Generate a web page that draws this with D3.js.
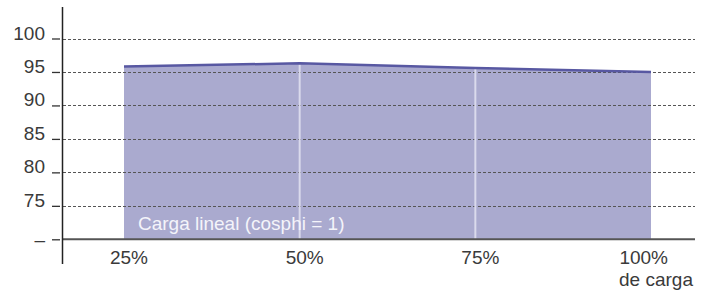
<!DOCTYPE html>
<html>
<head>
<meta charset="utf-8">
<script src="https://cdn.jsdelivr.net/npm/d3@7"></script>
<style>
  body { margin: 0; background: #fff; }
  text { font-family: "Liberation Sans", Arial, Helvetica, sans-serif; }
</style>
</head>
<body>
<div class="grafico"></div>
<script>
const width = 711, height = 290;

// datos
const cargas = [25, 50, 75, 100];
const rendimiento = [95.8, 96.3, 95.6, 95.0];
const etiquetasX = ["25%", "50%", "75%", "100%"];
const ticksY = [70, 75, 80, 85, 90, 95, 100];
const etiquetasY = ["–", "75", "80", "85", "90", "95", "100"];
const serie = "Carga lineal (cosphi = 1)";

const svg = d3.select(".grafico")
    .append("svg")
    .attr("width", width)
    .attr("height", height);

const x = d3.scaleLinear().domain([25, 100]).range([124, 651]);
const y = d3.scaleLinear().domain([70, 100]).range([239.3, 38.5]);

const datos = cargas.map((c, i) => ({ carga: c, valor: rendimiento[i] }));

// area
const area = d3.area()
    .x(d => x(d.carga))
    .y0(y(70))
    .y1(d => y(d.valor));

svg.append("path")
    .datum(datos)
    .attr("d", area)
    .attr("fill", "#aaaacf");

// lineas de rejilla punteadas
svg.append("g")
    .selectAll("line")
    .data(ticksY.slice(1))
    .enter().append("line")
    .attr("x1", 63)
    .attr("x2", 695)
    .attr("y1", d => Math.round(y(d)) + 0.5)
    .attr("y2", d => Math.round(y(d)) + 0.5)
    .attr("stroke", "#555")
    .attr("stroke-width", 1)
    .attr("stroke-dasharray", "3,2");

// lineas verticales blancas
svg.append("g")
    .selectAll("line")
    .data(datos.slice(1, 3))
    .enter().append("line")
    .attr("x1", d => x(d.carga))
    .attr("x2", d => x(d.carga))
    .attr("y1", y(70))
    .attr("y2", d => y(d.valor) + 1)
    .attr("stroke", "#dadaec")
    .attr("stroke-width", 2);

// linea superior
const linea = d3.line()
    .x(d => x(d.carga))
    .y(d => y(d.valor));

svg.append("path")
    .datum(datos)
    .attr("d", linea)
    .attr("fill", "none")
    .attr("stroke", "#5858a2")
    .attr("stroke-width", 2.5);

// texto de la serie
svg.append("text")
    .attr("x", 138)
    .attr("y", 230)
    .attr("font-size", 19)
    .attr("fill", "#f4f4fa")
    .text(serie);

// linea base
svg.append("line")
    .attr("x1", 62)
    .attr("x2", 695)
    .attr("y1", y(70))
    .attr("y2", y(70))
    .attr("stroke", "#555")
    .attr("stroke-width", 2);

// eje Y
const ejeY = d3.axisLeft(y)
    .tickValues(ticksY)
    .tickSize(8)
    .tickPadding(7)
    .tickFormat((d, i) => etiquetasY[i]);

const gY = svg.append("g")
    .attr("transform", "translate(60,0)")
    .call(ejeY);
gY.select(".domain").remove();
gY.selectAll(".tick line").attr("stroke", "#333").attr("stroke-width", 1.3);
gY.selectAll(".tick text")
    .attr("font-size", 19)
    .attr("font-family", "Liberation Sans, Arial, sans-serif")
    .attr("fill", "#3a3a3a")
    .attr("dy", (d, i) => i === 0 ? 6 : 0.5);

svg.append("line")
    .attr("x1", 62.5)
    .attr("x2", 62.5)
    .attr("y1", 7)
    .attr("y2", 264)
    .attr("stroke", "#222")
    .attr("stroke-width", 1.5);

// etiquetas X
svg.append("g")
    .selectAll("text")
    .data(etiquetasX)
    .enter().append("text")
    .attr("x", (d, i) => i === 3 ? x(cargas[i]) + 17 : x(cargas[i]) + 5)
    .attr("y", 264)
    .attr("text-anchor", (d, i) => i === 3 ? "end" : "middle")
    .attr("font-size", 19)
    .attr("fill", "#3a3a3a")
    .text(d => d);

svg.append("text")
    .attr("x", x(100) + 42)
    .attr("y", 286)
    .attr("text-anchor", "end")
    .attr("font-size", 19)
    .attr("fill", "#3a3a3a")
    .text("de carga");
</script>
</body>
</html>
